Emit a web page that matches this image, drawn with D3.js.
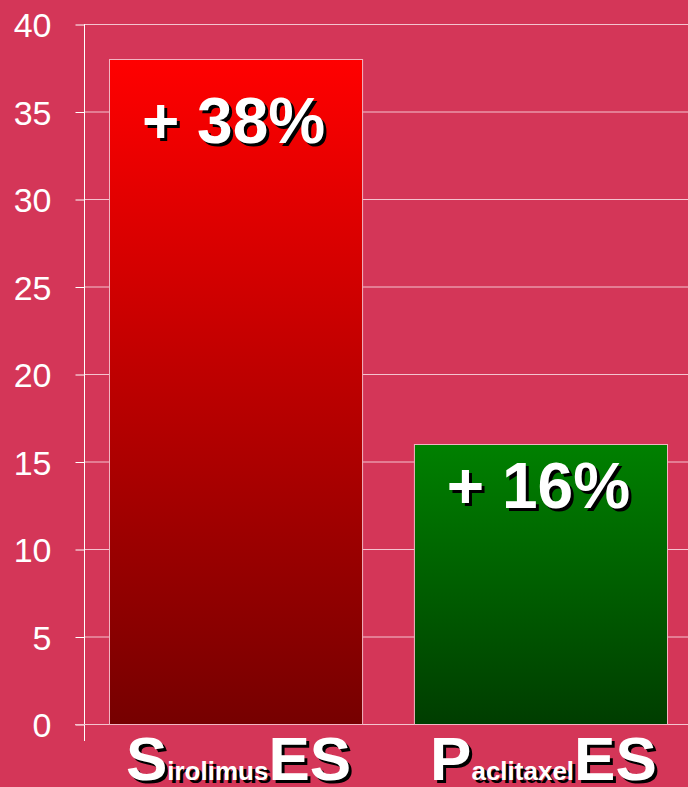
<!DOCTYPE html>
<html>
<head>
<meta charset="utf-8">
<script src="https://cdn.jsdelivr.net/npm/d3@7"></script>
<style>
  body { margin: 0; background: #d43658; }
  svg { display: block; }
</style>
</head>
<body>
<script>
// chart data
var categories = ["SirolimusES", "PaclitaxelES"];
var initials = ["S", "P"];
var middles = ["irolimus", "aclitaxel"];
var suffixes = ["ES", "ES"];
var values = [38, 16];
var valueLabels = ["+ 38%", "+ 16%"];
var yTicks = [0, 5, 10, 15, 20, 25, 30, 35, 40];

var W = 688, H = 787;
var font = "Liberation Sans, Arial, sans-serif";
// baseline of each value label, below the bar top
var labelOffsets = [84, 64];

var svg = d3.select("body").append("svg")
    .attr("width", W)
    .attr("height", H);

svg.append("rect").attr("width", W).attr("height", H).attr("fill", "#d43658");

var defs = svg.append("defs");
// bar gradients, top light -> bottom dark
var grads = [["#ff0000", "#760000"], ["#008000", "#003d00"]];
grads.forEach(function(g, i) {
    var lg = defs.append("linearGradient")
        .attr("id", "grad" + i)
        .attr("x1", 0).attr("y1", 0).attr("x2", 0).attr("y2", 1);
    lg.append("stop").attr("offset", "0%").attr("stop-color", g[0]);
    lg.append("stop").attr("offset", "100%").attr("stop-color", g[1]);
});

var y = d3.scaleLinear().domain([0, 40]).range([724, 24]);
var x = d3.scaleBand().domain(categories)
    .range([84, 692])
    .paddingInner(0.17)
    .paddingOuter(0.082);

// gridlines
svg.append("g").selectAll("line")
    .data(yTicks.filter(function(d) { return d > 0; }))
    .enter().append("line")
    .attr("x1", 84).attr("x2", W)
    .attr("y1", function(d) { return y(d) + 0.5; })
    .attr("y2", function(d) { return y(d) + 0.5; })
    .attr("stroke", "#f4c4cf")
    .attr("stroke-width", 1);

// y axis
var yAxis = d3.axisLeft(y).tickValues(yTicks).tickSize(9).tickPadding(24);
var ga = svg.append("g").attr("transform", "translate(84.5,0.5)").call(yAxis);
ga.select(".domain").remove();
ga.selectAll(".tick line").attr("stroke", "#ffffff");
ga.selectAll(".tick text")
    .attr("fill", "#ffffff")
    .attr("font-family", font)
    .attr("font-size", 34)
    .attr("dy", "0.36em");
svg.append("line")
    .attr("x1", 84.5).attr("x2", 84.5)
    .attr("y1", 24).attr("y2", 741)
    .attr("stroke", "#ffffff");
svg.append("line")
    .attr("x1", 75).attr("x2", W)
    .attr("y1", y(0) + 0.5).attr("y2", y(0) + 0.5)
    .attr("stroke", "#f4c4cf");

// bars
svg.append("g").selectAll("rect")
    .data(values)
    .enter().append("rect")
    .attr("x", function(d, i) { return x(categories[i]) + 0.5; })
    .attr("y", function(d) { return y(d) + 0.5; })
    .attr("width", x.bandwidth())
    .attr("height", function(d) { return y(0) - y(d); })
    .attr("fill", function(d, i) { return "url(#grad" + i + ")"; })
    .attr("stroke", "#f2b5c2")
    .attr("stroke-width", 1);

// text with a black drop shadow
function shadowText(g, xPos, yPos, build) {
    [["#000000", 3], ["#ffffff", 0]].forEach(function(s) {
        var t = g.append("text")
            .attr("x", xPos + s[1])
            .attr("y", yPos + s[1])
            .attr("text-anchor", "middle")
            .attr("font-family", font)
            .attr("font-weight", "bold")
            .attr("fill", s[0]);
        build(t);
    });
}

// value labels
values.forEach(function(d, i) {
    var cx = x(categories[i]) + x.bandwidth() / 2;
    shadowText(svg, cx - 2, y(d) + labelOffsets[i], function(t) {
        t.attr("font-size", 64).text(valueLabels[i]);
    });
});

// category labels
categories.forEach(function(c, i) {
    var cx = x(c) + x.bandwidth() / 2 + 3;
    shadowText(svg, cx, 780, function(t) {
        t.append("tspan").attr("font-size", 62).text(initials[i]);
        t.append("tspan").attr("font-size", 26).text(middles[i]);
        t.append("tspan").attr("font-size", 62).text(suffixes[i]);
    });
});
</script>
</body>
</html>
